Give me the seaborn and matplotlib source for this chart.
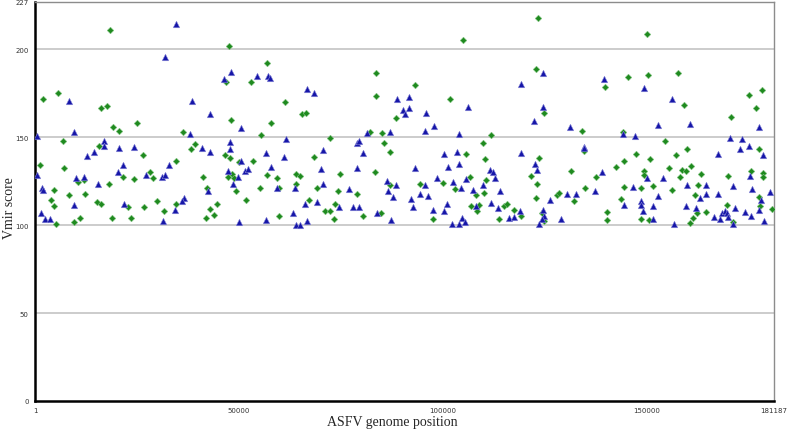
import pandas as pd
import numpy as np
import seaborn as sns
import matplotlib
matplotlib.use('Agg')
import matplotlib.pyplot as plt

# Blue triangles (genome position, Vmir score)
blue_pos = [34590, 31880, 8430, 9510, 570, 16890, 16890, 20480, 24330, 14500, 12780, 32940, 21460, 20330,
            570, 27210, 31140, 31780, 10080, 12040, 15560, 1650, 1890, 9660, 21700, 36450, 36060, 1470, 2380,
            3760, 31290, 34240,
            48100, 46280, 54320, 57030, 57590, 66780, 68410, 38520, 43020, 50390, 37930, 61620, 40970, 42840,
            47930, 47930, 50630, 56530, 61030, 70620, 57760, 47270, 49730, 51540, 52110, 70050, 42520, 48500,
            59240, 63740, 70720, 63340, 66190, 69070, 49970, 56710, 64080, 64970, 66780,
            88660, 91610, 91680, 90210, 90700, 106110, 95930, 97750, 95620, 81360, 87090, 103900, 78980, 79320,
            80380, 100360, 103560, 104050, 101200, 78900, 93160, 98640, 105620, 86350, 88490, 95690, 102420,
            104540, 107340, 109870, 76940, 86600, 87680, 92250, 94460, 96430, 74650, 77850, 79320, 92590, 97580,
            101020, 100210, 108230, 83890, 87260, 102180, 104050, 104640, 105520,
            124620, 119140, 139440, 124620, 122410, 131180, 144280, 146990, 119140, 134530, 134530, 122650,
            122970, 139050, 111670, 112410, 112900, 114120, 137230, 146500, 130450, 132660, 126170, 144530,
            111840, 113490, 118970, 116190, 117320, 124620, 124690, 124370, 123560, 128970,
            149270, 156160, 152640, 160580, 177540, 170410, 173460, 172800, 175180, 178520, 167560, 150010,
            153870, 175330, 152810, 159940, 164440, 162970, 164440, 167560, 171250, 175820, 177890, 180170,
            148640, 148540, 149030, 151590, 151410, 159520, 162060, 166580, 167880, 168370, 169180, 169600,
            170020, 171570, 171150, 174100, 175500, 177540, 178620, 156750]
blue_score = [214.5, 195.9, 170.5, 152.8, 150.7, 148.1, 144.8, 144.1, 144.4, 141.6, 139.3, 134.5, 134.1, 130.2,
              128.7, 128.3, 127.5, 128.4, 126.6, 127.7, 123.5, 121.0, 120.1, 111.3, 112.1, 115.7, 113.8, 107.0, 103.4,
              103.8, 102.2, 108.5,
              187.0, 183.0, 184.7, 185.1, 183.7, 177.7, 175.4, 170.5, 163.2, 155.1, 151.8, 149.2, 143.7, 141.8,
              147.1, 143.3, 136.8, 141.2, 138.9, 142.9, 133.4, 131.0, 127.3, 131.0, 131.9, 132.1, 119.6, 123.5,
              121.3, 121.3, 123.7, 107.2, 112.1, 113.1, 101.9, 103.2, 100.3, 100.3, 102.2,
              172.0, 172.7, 166.5, 165.5, 163.4, 167.2, 163.6, 156.2, 153.8, 152.6, 153.0, 152.0, 146.9, 148.1,
              141.2, 140.4, 141.6, 134.9, 133.4, 132.8, 132.4, 126.7, 126.4, 125.4, 122.7, 123.1, 124.5,
              121.3, 119.9, 122.7, 120.5, 119.3, 116.1, 115.0, 117.6, 116.9, 110.2, 110.4, 110.6, 110.6, 108.7,
              112.1, 107.9, 110.8, 106.8, 102.8, 100.7, 100.7, 104.2, 101.6,
              186.6, 180.2, 183.0, 167.2, 159.5, 155.8, 151.8, 150.9, 141.2, 144.6, 143.7, 134.9,
              131.3, 130.2, 131.3, 130.0, 126.7, 119.7, 119.3, 121.8, 117.6, 118.0, 114.4, 111.7,
              112.5, 110.0, 108.3, 104.2, 104.9, 108.5, 105.1, 103.8, 100.7, 103.6,
              177.9, 171.6, 157.3, 157.7, 155.8, 149.9, 148.8, 143.5, 145.2, 140.1, 140.4, 126.7,
              126.7, 127.9, 116.9, 123.1, 123.1, 115.6, 117.6, 117.8, 122.4, 120.7, 114.2, 118.8,
              113.6, 111.6, 108.3, 111.0, 103.8, 111.0, 109.9, 104.5, 103.8, 106.8, 108.1, 107.0,
              104.9, 109.6, 100.5, 107.3, 105.5, 108.7, 102.6, 100.5]

# Green diamonds (genome position, Vmir score)
green_pos = [18510, 2040, 5730, 16300, 17620, 19100, 20650, 25070, 36380, 6960, 15730, 26550, 34660, 1230,
             7130, 28270, 21630, 24260, 28930, 10640, 12040, 18120, 4740, 8430, 12290, 3930, 4670, 15240, 16150,
             22860, 26720, 29910, 34490, 5090, 9660, 11060, 18930, 23520, 31540,
             47510, 56780, 46870, 52850, 61280, 48100, 57760, 65380, 66370, 55310, 72440, 39250, 38270, 46530,
             47930, 49900, 53510, 68410, 48420, 47360, 48740, 56950, 59240, 63910, 64890, 41220, 42200, 49230,
             55060, 59900, 64080, 69240, 44740, 43020, 42030, 44000, 51620, 59800, 67280, 71040, 72440, 73570,
             73250,
             104880, 83570, 93080, 83570, 101840, 88490, 82170, 85120, 85460, 109870, 87090, 105620, 110360,
             83400, 74800, 106750, 110540, 87090, 94460, 99970, 102990, 108150, 110190, 74310, 78980, 106920,
             108820, 108320, 84800, 80380, 97510,
             123320, 122730, 139860, 145510, 124790, 134210, 144110, 111840, 134530, 123470, 121670, 122970,
             131500, 137570, 142490, 144360, 147230, 134870, 144360, 128060, 128550, 122900, 132070, 143620,
             114960, 115700, 117320, 119040, 113730, 124200, 124790, 140180, 140180,
             150010, 150180, 157730, 159110, 175180, 178210, 176730, 170660, 154530, 177470, 159940, 157070,
             150750, 149270, 149200, 155350, 158710, 159600, 160750, 158120, 163380, 169920, 175500, 178450,
             178520, 148640, 151410, 156080, 162550, 161810, 177390, 148460, 150600, 162230, 161420, 160510,
             164610, 169670, 171150, 177640, 180590]
green_score = [210.8, 171.8, 175.0, 166.6, 167.8, 156.0, 153.8, 157.9, 153.2, 147.8, 145.0, 140.2, 136.3, 134.0,
               132.4, 130.2, 127.3, 126.4, 126.7, 124.5, 125.8, 123.3, 120.1, 117.4, 117.8, 114.6, 111.2, 113.3, 112.1,
               110.4, 110.4, 114.0, 112.3, 100.5, 101.9, 103.9, 104.3, 104.3, 107.9,
               202.2, 192.1, 181.3, 181.7, 170.3, 160.0, 158.3, 163.4, 163.6, 151.1, 149.4, 146.1, 143.1, 139.8,
               138.0, 136.1, 136.7, 138.7, 129.2, 127.5, 126.6, 128.8, 127.0, 129.2, 128.1, 127.3, 120.9, 119.3,
               121.3, 120.9, 123.3, 121.3, 112.3, 109.1, 104.3, 105.6, 114.6, 105.5, 114.2, 108.3, 108.3, 111.9,
               103.4,
               205.2, 186.8, 179.6, 173.3, 171.8, 161.2, 152.8, 152.4, 146.5, 146.9, 141.4, 140.4, 137.8,
               130.2, 129.4, 127.7, 126.0, 123.1, 123.5, 124.3, 120.7, 117.0, 118.6, 119.2, 117.6, 110.8,
               111.3, 107.9, 107.0, 105.3, 103.8,
               217.8, 188.7, 178.4, 184.3, 164.0, 153.8, 153.0, 151.1, 142.4, 138.0, 128.1, 123.7,
               131.1, 127.7, 133.4, 136.4, 140.8, 121.4, 121.8, 117.4, 118.4, 115.7, 114.0, 115.0,
               110.8, 112.1, 108.5, 105.5, 103.8, 106.8, 102.2, 107.7, 103.0,
               208.8, 185.3, 186.4, 168.6, 174.1, 176.9, 166.9, 161.7, 147.8, 143.5, 143.5, 139.7,
               137.8, 130.7, 128.8, 132.4, 131.7, 131.1, 133.6, 127.3, 129.2, 128.1, 130.7, 129.6,
               127.3, 121.3, 122.2, 120.1, 123.1, 117.4, 115.9, 103.8, 103.2, 107.0, 104.3, 101.5,
               107.3, 111.7, 101.6, 110.8, 109.5]

x_ticks = [1, 50000, 100000, 150000, 181187]
y_ticks = [0, 50, 100, 150, 200, 227]

df = pd.DataFrame({
    'pos': blue_pos + green_pos,
    'score': blue_score + green_score,
    'kind': ['blue'] * len(blue_pos) + ['green'] * len(green_pos),
})

sns.set_style("white")
fig = plt.figure(figsize=(7.87, 4.35), dpi=100)
ax = fig.add_axes([35 / 787, 1 - 402 / 435, 739 / 787, 399 / 435])

for y in [50, 100, 150, 200]:
    ax.axhline(y, color='#c8c8c8', linewidth=1.3, zorder=0)

sns.scatterplot(data=df[df['kind'] == 'green'], x='pos', y='score', marker='D', s=11,
                color='#1f8a1f', edgecolor='#7cc07c', linewidth=0.4, ax=ax, zorder=3)
sns.scatterplot(data=df[df['kind'] == 'blue'], x='pos', y='score', marker='^', s=22,
                color='#1616a8', edgecolor='#8a8ad8', linewidth=0.4, ax=ax, zorder=3)

ax.set_xlim(1, 181187)
ax.set_ylim(0, 227)
ax.set_xticks(x_ticks)
ax.set_xticklabels([str(t) for t in x_ticks])
ax.set_yticks(y_ticks)
ax.set_yticklabels([str(t) for t in y_ticks])
ax.tick_params(axis='both', labelsize=5, labelcolor='#333333', length=3, width=0.8,
               direction='out', color='#333333', pad=1.5)

for side in ['left', 'bottom']:
    ax.spines[side].set_color('black')
    ax.spines[side].set_linewidth(1.8)
for side in ['top', 'right']:
    ax.spines[side].set_color('#8c8c8c')
    ax.spines[side].set_linewidth(1.0)

ax.set_xlabel('ASFV genome position', fontsize=10, family='Liberation Serif')
ax.set_ylabel('Vmir score', fontsize=10, family='Liberation Serif')
ax.xaxis.set_label_coords((392 - 35) / 739, (402 - 416) / 399)
ax.yaxis.set_label_coords((16 - 35) / 739, (402 - 208) / 399)

fig.savefig('out.png', dpi=100, facecolor='white')
